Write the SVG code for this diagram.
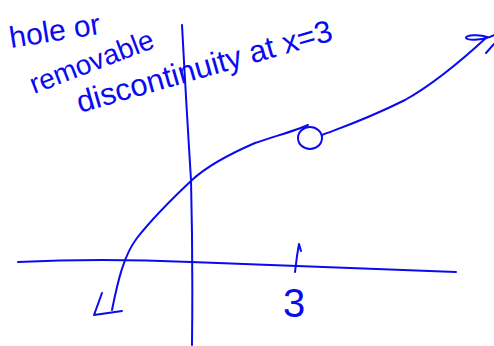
<svg xmlns="http://www.w3.org/2000/svg" width="494" height="346" viewBox="0 0 494 346">
<style>
.ink{fill:none;stroke:#0a0af0;stroke-width:2;stroke-linecap:round;stroke-linejoin:round}
.t{fill:#0a0af0;font-family:"Liberation Sans",Arial,sans-serif}
</style>
<rect width="494" height="346" fill="#ffffff"/>
<g id="axes">
<path class="ink" d="M18,262 Q100,258 191,262 Q282,266 456,272"/>
<path class="ink" d="M182,25 Q186,100 191,180 Q193,260 192,345"/>
<path class="ink" d="M301,251 L299,244 L297,256 L295,272"/>
<text class="t" x="294" y="317" font-size="40" text-anchor="middle">3</text>
</g>
<g id="curve">
<path class="ink" d="M112,310 C118,280 124,255 137,238 C155,215 175,196 192,180 C205,168 225,156 255,143 C275,136 295,131 308,125"/>
<ellipse class="ink" cx="310" cy="138" rx="12" ry="11"/>
<path class="ink" d="M322,135 C340,128 365,120 405,100 C430,86 460,62 487,37"/>
<path class="ink" d="M487,37 C480,34 465,35 466,38 C468,41 485,40 494,35"/>
<path class="ink" d="M486,53 L494,44"/>
<path class="ink" d="M102,293 L94,315 L122,311"/>
</g>
<g id="label">
<text class="t" font-size="30" transform="translate(11,48) rotate(-9)">hole or</text>
<text class="t" font-size="28" transform="translate(34,94) rotate(-21)">removable</text>
<text class="t" font-size="31" transform="translate(80,113) rotate(-16)">discontinuity at x=3</text>
</g>
</svg>
